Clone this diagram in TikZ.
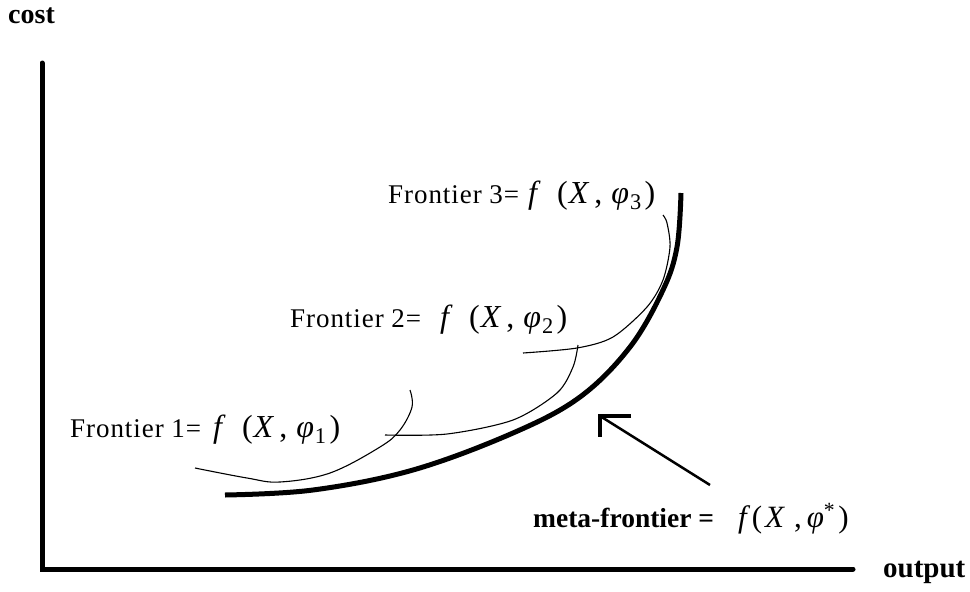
\documentclass[tikz,border=0pt]{standalone}
\usepackage{fontspec}
\setmainfont{Liberation Serif}
\newcommand{\fxphi}[1]{{\fontsize{32}{34}\selectfont\itshape f\hspace{20pt}\upshape(\hspace{1pt}\itshape X\hspace{6pt}\upshape,\hspace{9pt}\itshape φ\hspace{1pt}\upshape\textsubscript{#1}\hspace{3pt})}}
\newcommand{\fxstar}{{\fontsize{31}{33}\selectfont\itshape f\hspace{5pt}\upshape(\hspace{3pt}\itshape X\hspace{10pt}\upshape,\hspace{5pt}\itshape φ\upshape\textsuperscript{*}\hspace{3pt})}}
\begin{document}
\begin{tikzpicture}[x=1pt,y=-1pt,
  lbl/.style={anchor=base west,inner sep=0pt,font=\fontsize{27}{29}\selectfont\addfontfeature{LetterSpace=3.5}},
  mlbl/.style={anchor=base west,inner sep=0pt},
  blbl/.style={anchor=base west,inner sep=0pt,font=\fontsize{28}{30}\selectfont\bfseries},
  axisline/.style={line width=5pt,line cap=round},
  meta/.style={line width=5pt},
  thinc/.style={line width=1.1pt},
  arrowline/.style={line width=2.5pt}]
\useasboundingbox (0,0) rectangle (970,592);
% axes
\coordinate (ytop) at (42,63);
\coordinate (orig) at (42,569);
\coordinate (xend) at (853,569);
\draw[axisline] (ytop) -- (orig) -- (xend);
\node[blbl] (cost) at (8,23) {cost};
\node[blbl,font=\fontsize{29}{31}\selectfont\bfseries] (output) at (883,577) {output};
% meta-frontier
\draw[meta] plot[smooth,tension=0.6] coordinates {(225,495) (313,490) (413,470) (513,433) (580,397) (630,347) (663,290) (677,247) (681,193)};
% frontier 1
\draw[thinc] plot[smooth,tension=0.6] coordinates {(195,468) (247,478) (280,482) (330,473) (380,447) (400,430) (412,407) (410,390)};
% frontier 2
\draw[thinc] plot[smooth,tension=0.5] coordinates {(385,435) (447,434) (513,420) (557,393) (573,367) (578,345)};
% frontier 3
\draw[thinc] plot[smooth,tension=0.5] coordinates {(523,353) (577,348) (613,337) (647,307) (663,280) (670,247) (667,223) (663,215)};
% labels
\node[lbl] (f1) at (70,437) {Frontier 1=};
\node[mlbl] (m1) at (213,437) {\fxphi{1}};
\node[lbl] (f2) at (290,327) {Frontier 2=};
\node[mlbl] (m2) at (440,327) {\fxphi{2}};
\node[lbl] (f3) at (388,203) {Frontier 3=};
\node[mlbl] (m3) at (528,203) {\fxphi{3}};
\node[blbl,font=\fontsize{27.5}{29}\selectfont\bfseries] (mf) at (533,527) {meta-frontier =};
\node[mlbl] (mm) at (738,527) {\fxstar};
% arrow
\coordinate (atail) at (710,485);
\coordinate (atip) at (600,416);
\coordinate (ah1) at (631,416);
\coordinate (ah2) at (600,437);
\draw[arrowline] (atail) -- (atip);
\draw[line width=4pt] (ah1) -- (atip) -- (ah2);
\end{tikzpicture}
\end{document}
